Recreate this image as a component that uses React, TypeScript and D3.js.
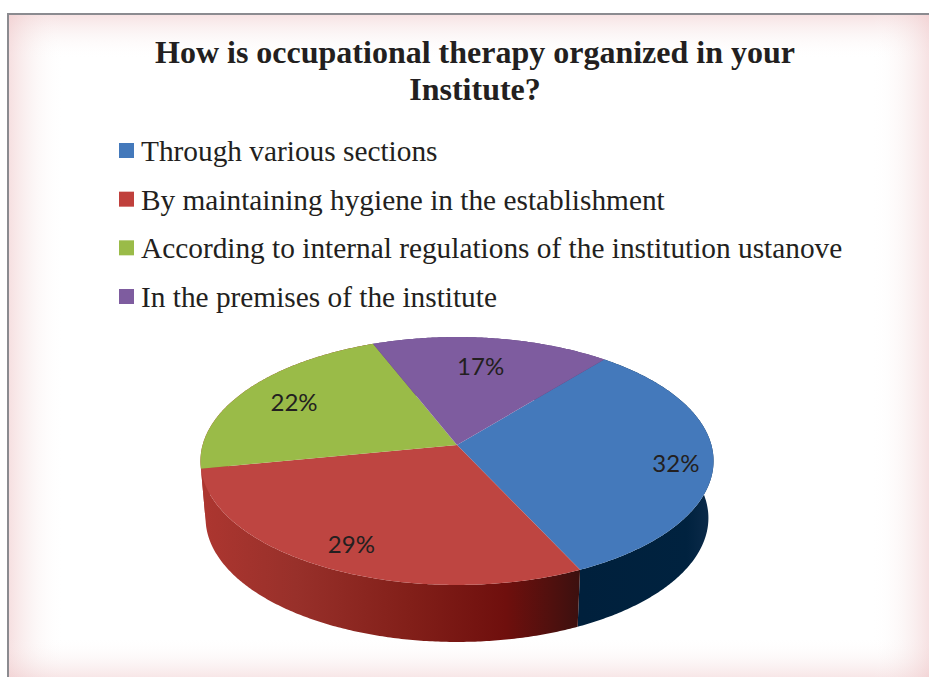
import React, { useEffect, useRef } from "react";
import * as d3 from "d3";

const titleLines = ["How is occupational therapy organized in your", "Institute?"];
const categories = [
  "Through various sections",
  "By maintaining hygiene in the establishment",
  "According to internal regulations of the institution ustanove",
  "In the premises of the institute",
];
const values = [32, 29, 22, 17];
const topColors = ["#4479bb", "#be4541", "#9abb48", "#7e5c9f"];
const legendColors = ["#4479bb", "#c0403c", "#9abb48", "#7e5c9f"];
// how far out each percent label sits, as a share of the radius
const labelRadius = [0.855, 0.83, 0.765, 0.71];
const labelShiftX = [0, 0, 0, -2];
const labelShiftY = [5, 0, 0, 0];

const width = 929;
const height = 677;
const cx = 457;
const cy = 445; // pie centre on screen, above the ellipse centre because of perspective
const scaleX = 254.4;
const scaleY = 121.9;
const persp = 0.129;
const depth = 57;
const startAngle = (39.5 * Math.PI) / 180;

// angle is clockwise from 12 o'clock, r is 0..1
const project = (angle: number, r = 1) => {
  const X = r * Math.sin(angle);
  const Y = -r * Math.cos(angle);
  const w = 1 - persp * Y;
  return [cx + (scaleX * X) / w, cy + (scaleY * Y) / w];
};

const projectLow = (angle: number) => {
  const [x, y] = project(angle);
  return [cx + (x - cx) * 0.98, y + depth];
};

const arcPoints = (a0: number, a1: number) => {
  const n = Math.ceil(Math.abs(a1 - a0) / 0.01);
  return d3.range(n + 1).map((i) => a0 + ((a1 - a0) * i) / n);
};

export default function App() {
  const svgRef = useRef<SVGSVGElement>(null);

  useEffect(() => {
    const svg = d3.select(svgRef.current);
    svg.selectAll("*").remove();
    const defs = svg.append("defs");

    const edgeGradient = (id: string, x1: number, y1: number, x2: number, y2: number, alpha: number) => {
      const g = defs
        .append("linearGradient")
        .attr("id", id)
        .attr("x1", x1)
        .attr("y1", y1)
        .attr("x2", x2)
        .attr("y2", y2);
      g.append("stop").attr("offset", 0).attr("stop-color", "#eec4c6").attr("stop-opacity", alpha);
      g.append("stop").attr("offset", 0.5).attr("stop-color", "#f3dcdc").attr("stop-opacity", alpha * 0.4);
      g.append("stop").attr("offset", 1).attr("stop-color", "#ffffff").attr("stop-opacity", 0);
    };
    edgeGradient("edgeTop", 0, 0, 0, 1, 0.5);
    edgeGradient("edgeLeft", 0, 0, 1, 0, 0.55);
    edgeGradient("edgeBottom", 0, 1, 0, 0, 0.42);
    edgeGradient("edgeRight", 1, 0, 0, 0, 0.5);

    const redSide = defs
      .append("linearGradient")
      .attr("id", "redSide")
      .attr("gradientUnits", "userSpaceOnUse")
      .attr("x1", 200)
      .attr("y1", 0)
      .attr("x2", 582)
      .attr("y2", 0);
    [
      [0, "#ad3630"],
      [0.25, "#98302a"],
      [0.55, "#821f19"],
      [0.8, "#6f0f0d"],
      [0.92, "#50100e"],
      [1, "#3a100f"],
    ].forEach(([o, c]) => redSide.append("stop").attr("offset", o).attr("stop-color", c));

    const blueSide = defs
      .append("linearGradient")
      .attr("id", "blueSide")
      .attr("gradientUnits", "userSpaceOnUse")
      .attr("x1", 582)
      .attr("y1", 0)
      .attr("x2", 713)
      .attr("y2", 0);
    [
      [0, "#00203c"],
      [0.8, "#00223f"],
      [1, "#0e2c4b"],
    ].forEach(([o, c]) => blueSide.append("stop").attr("offset", o).attr("stop-color", c));

    svg.append("rect").attr("width", width).attr("height", height).attr("fill", "#ffffff");

    // panel with pink glow along its edges
    const panelX = 8;
    const panelY = 14;
    const panelW = width - panelX;
    const panelH = height - panelY;
    svg.append("rect").attr("x", panelX).attr("y", panelY).attr("width", panelW).attr("height", panelH).attr("fill", "#ffffff");
    svg.append("rect").attr("x", panelX).attr("y", panelY).attr("width", panelW).attr("height", 46).attr("fill", "url(#edgeTop)");
    svg.append("rect").attr("x", panelX).attr("y", panelY).attr("width", 56).attr("height", panelH).attr("fill", "url(#edgeLeft)");
    svg.append("rect").attr("x", panelX).attr("y", height - 40).attr("width", panelW).attr("height", 40).attr("fill", "url(#edgeBottom)");
    svg.append("rect").attr("x", width - 58).attr("y", panelY).attr("width", 58).attr("height", panelH).attr("fill", "url(#edgeRight)");
    svg
      .append("path")
      .attr("d", `M${panelX},${height} V${panelY} H${width}`)
      .attr("fill", "none")
      .attr("stroke", "#8b8b90")
      .attr("stroke-width", 2);

    // title
    svg
      .append("g")
      .selectAll("text")
      .data(titleLines)
      .join("text")
      .attr("x", 475)
      .attr("y", (d, i) => 63 + i * 37)
      .attr("text-anchor", "middle")
      .attr("font-family", "'Liberation Serif'")
      .attr("font-weight", "bold")
      .attr("font-size", 32)
      .attr("fill", "#231f20")
      .text((d) => d);

    // legend
    const legendY = d3.scalePoint<string>().domain(categories).range([150.5, 296.5]);
    const legend = svg
      .append("g")
      .selectAll("g")
      .data(categories)
      .join("g")
      .attr("transform", (d) => `translate(0,${legendY(d)})`);
    legend
      .append("rect")
      .attr("x", 119)
      .attr("y", -7.5)
      .attr("width", 15)
      .attr("height", 15)
      .attr("fill", (d, i) => legendColors[i]);
    legend
      .append("text")
      .attr("x", 141)
      .attr("y", 10.5)
      .attr("font-family", "'Liberation Serif'")
      .attr("font-size", 29.33)
      .attr("fill", "#231f20")
      .text((d) => d);

    // pie
    const slices = d3
      .pie<number>()
      .sort(null)
      .startAngle(startAngle)
      .endAngle(startAngle + 2 * Math.PI)(values);

    const line = d3.line();
    const sideFill = ["url(#blueSide)", "url(#redSide)", "url(#redSide)", "#5a3f78"];

    // side walls first, the top face covers whatever faces away
    svg
      .append("g")
      .selectAll("path")
      .data(slices)
      .join("path")
      .attr("d", (s) => {
        const angles = arcPoints(s.startAngle, s.endAngle);
        const pts = [...angles.map((a) => project(a)), ...angles.slice().reverse().map((a) => projectLow(a))];
        return line(pts as [number, number][]) + "Z";
      })
      .attr("fill", (s, i) => sideFill[i]);

    svg
      .append("g")
      .selectAll("path")
      .data(slices)
      .join("path")
      .attr("d", (s) => {
        const pts = [[cx, cy], ...arcPoints(s.startAngle, s.endAngle).map((a) => project(a))];
        return line(pts as [number, number][]) + "Z";
      })
      .attr("fill", (s, i) => topColors[i]);

    svg
      .append("g")
      .selectAll("text")
      .data(slices)
      .join("text")
      .attr("transform", (s, i) => {
        const [x, y] = project((s.startAngle + s.endAngle) / 2, labelRadius[i]);
        return `translate(${x + labelShiftX[i]},${y + labelShiftY[i]})`;
      })
      .attr("text-anchor", "middle")
      .attr("dy", "0.36em")
      .attr("font-family", "Lato")
      .attr("font-size", 24)
      .attr("fill", "#231f20")
      .text((s) => `${s.value}%`);
  }, []);

  return (
    <svg
      ref={svgRef}
      width={width}
      height={height}
      style={{ position: "absolute", left: 0, top: 0, display: "block" }}
    ></svg>
  );
}
